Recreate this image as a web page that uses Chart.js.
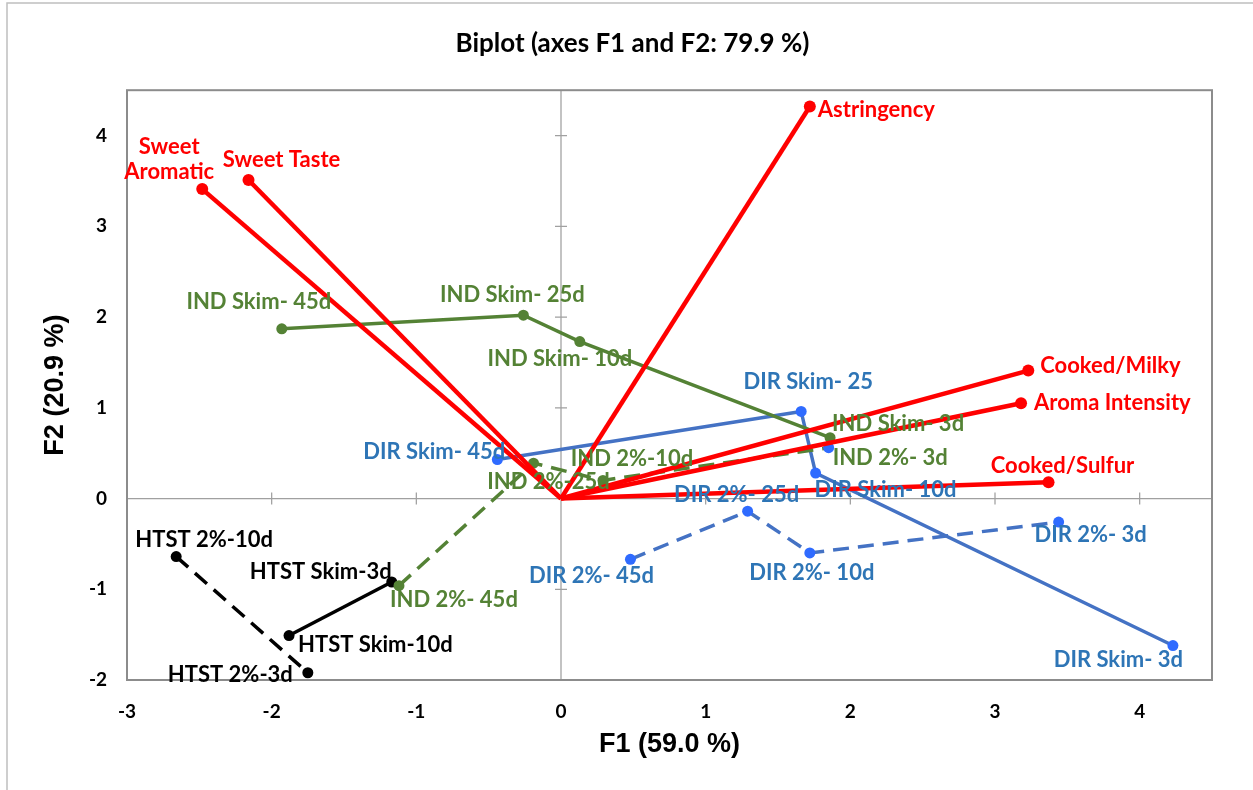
<!DOCTYPE html>
<html>
<head>
<meta charset="utf-8">
<script src="https://cdn.jsdelivr.net/npm/chart.js@4.4.1/dist/chart.umd.min.js"></script>
<style>
  html, body { margin: 0; padding: 0; background: #fff; }
  #wrap { position: relative; width: 1253px; height: 790px; }
</style>
</head>
<body>
<div id="wrap"><canvas id="biplot"></canvas></div>
<script>
// sensory attribute vectors (red)
const attrNames = [['Sweet', 'Aromatic'], 'Sweet Taste', 'Astringency', 'Cooked/Milky', 'Aroma Intensity', 'Cooked/Sulfur'];
const attrF1 = [-2.48, -2.16, 1.72, 3.23, 3.18, 3.37];
const attrF2 = [3.41, 3.51, 4.32, 1.41, 1.05, 0.18];

// milk samples, each path runs 45d -> 3d (or as drawn)
const indSkimNames = ['IND Skim- 45d', 'IND Skim- 25d', 'IND Skim- 10d', 'IND Skim- 3d'];
const indSkimF1 = [-1.93, -0.26, 0.13, 1.86];
const indSkimF2 = [1.87, 2.02, 1.73, 0.67];

const ind2Names = ['IND 2%- 45d', 'IND 2%-25d', 'IND 2%-10d', 'IND 2%- 3d'];
const ind2F1 = [-1.12, -0.19, 0.29, 1.85];
const ind2F2 = [-0.96, 0.39, 0.20, 0.56];

const dirSkimNames = ['DIR Skim- 45d', 'DIR Skim- 25', 'DIR Skim- 10d', 'DIR Skim- 3d'];
const dirSkimF1 = [-0.44, 1.66, 1.76, 4.23];
const dirSkimF2 = [0.43, 0.96, 0.28, -1.62];

const dir2Names = ['DIR 2%- 45d', 'DIR 2%- 25d', 'DIR 2%- 10d', 'DIR 2%- 3d'];
const dir2F1 = [0.48, 1.29, 1.72, 3.44];
const dir2F2 = [-0.67, -0.14, -0.60, -0.26];

const htstSkimNames = ['HTST Skim-3d', 'HTST Skim-10d'];
const htstSkimF1 = [-1.17, -1.88];
const htstSkimF2 = [-0.92, -1.51];

const htst2Names = ['HTST 2%-10d', 'HTST 2%-3d'];
const htst2F1 = [-2.66, -1.75];
const htst2F2 = [-0.64, -1.92];

const xTicks = [-3, -2, -1, 0, 1, 2, 3, 4];
const yTicks = [-2, -1, 0, 1, 2, 3, 4];

// label placement: [dx, dy, align] relative to the point
const attrPlace = [[-33, -30, 'center'], [33, -20, 'center'], [8, 3, 'left'], [12, -5, 'left'], [13, 0, 'left'], [14, -16, 'center']];
const indSkimPlace = [[-23, -27, 'center'], [-11, -20, 'center'], [-20, 17, 'center'], [2, -14, 'left']];
const ind2Place = [[-9, 14, 'left'], [15, 19, 'center'], [29, -21, 'center'], [4, 10, 'left']];
const dirSkimPlace = [[8, -8, 'right'], [7, -30, 'center'], [-1, 17, 'left'], [10, 14, 'right']];
const dir2Place = [[-39, 17, 'center'], [-11, -16, 'center'], [2, 20, 'center'], [32, 13, 'center']];
const htstSkimPlace = [[0, -10, 'right'], [9, 9, 'left']];
const htst2Place = [[28, -17, 'center'], [-15, 2, 'right']];

const RED = '#FF0000';
const GREEN = '#548235';
const BLUE_LINE = '#4472C4';
const BLUE_DOT = '#2F6BFF';
const BLUE_TEXT = '#2E75B6';
const BLACK = '#000000';
const DASH = [16, 9];

function pts(f1, f2) {
    return f1.map((v, i) => ({ x: v, y: f2[i] }));
}

function series(names, f1, f2, place, line, dot, text, dashed) {
    return {
        data: pts(f1, f2),
        names: names,
        place: place,
        labelColor: text,
        showLine: true,
        borderColor: line,
        borderWidth: 3.5,
        borderDash: dashed ? DASH : [],
        pointRadius: 5.5,
        pointHoverRadius: 5.5,
        pointBorderWidth: 0,
        pointBackgroundColor: dot,
        tension: 0
    };
}

const datasets = [];
attrNames.forEach((name, i) => {
    datasets.push({
        data: [{ x: 0, y: 0 }, { x: attrF1[i], y: attrF2[i] }],
        names: [null, name],
        place: [null, attrPlace[i]],
        labelColor: RED,
        showLine: true,
        borderColor: RED,
        borderWidth: 4.5,
        pointRadius: [0, 6],
        pointHoverRadius: [0, 6],
        pointBorderWidth: 0,
        pointBackgroundColor: RED,
        tension: 0
    });
});
datasets.push(series(indSkimNames, indSkimF1, indSkimF2, indSkimPlace, GREEN, GREEN, GREEN, false));
datasets.push(series(ind2Names, ind2F1, ind2F2, ind2Place, GREEN, [GREEN, GREEN, GREEN, BLUE_DOT], GREEN, true));
datasets.push(series(dirSkimNames, dirSkimF1, dirSkimF2, dirSkimPlace, BLUE_LINE, BLUE_DOT, BLUE_TEXT, false));
datasets.push(series(dir2Names, dir2F1, dir2F2, dir2Place, BLUE_LINE, BLUE_DOT, BLUE_TEXT, true));
datasets.push(series(htstSkimNames, htstSkimF1, htstSkimF2, htstSkimPlace, BLACK, BLACK, BLACK, false));
datasets.push(series(htst2Names, htst2F1, htst2F2, htst2Place, BLACK, BLACK, BLACK, true));

// outer frame, plot frame, zero axes with cross ticks
const frames = {
    id: 'frames',
    beforeDraw(chart) {
        const ctx = chart.ctx;
        ctx.save();
        ctx.strokeStyle = '#BFBFBF';
        ctx.lineWidth = 1.5;
        ctx.strokeRect(7, 3, chart.width + 20, chart.height + 20);
        ctx.restore();
    },
    beforeDatasetsDraw(chart) {
        const { ctx, chartArea: a, scales: { x, y } } = chart;
        const x0 = x.getPixelForValue(0);
        const y0 = y.getPixelForValue(0);
        ctx.save();
        ctx.strokeStyle = '#A0A0A0';
        ctx.lineWidth = 1.25;
        ctx.beginPath();
        ctx.moveTo(a.left, y0);
        ctx.lineTo(a.right, y0);
        ctx.moveTo(x0, a.top);
        ctx.lineTo(x0, a.bottom);
        xTicks.forEach(v => {
            const px = x.getPixelForValue(v);
            ctx.moveTo(px, y0 - 6);
            ctx.lineTo(px, y0 + 6);
        });
        yTicks.forEach(v => {
            const py = y.getPixelForValue(v);
            ctx.moveTo(x0 - 6, py);
            ctx.lineTo(x0 + 6, py);
        });
        ctx.stroke();
        ctx.strokeStyle = '#8C8C8C';
        ctx.lineWidth = 2;
        ctx.strokeRect(a.left, a.top, a.right - a.left, a.bottom - a.top);
        ctx.restore();
    }
};

// data labels next to each point
const pointLabels = {
    id: 'pointLabels',
    afterDatasetsDraw(chart) {
        const ctx = chart.ctx;
        ctx.save();
        ctx.font = 'bold 22px Lato';
        ctx.textBaseline = 'middle';
        chart.data.datasets.forEach((ds, i) => {
            const meta = chart.getDatasetMeta(i);
            ctx.fillStyle = ds.labelColor;
            ds.names.forEach((name, j) => {
                if (!name) return;
                const el = meta.data[j];
                const [dx, dy, align] = ds.place[j];
                const lines = Array.isArray(name) ? name : [name];
                ctx.textAlign = align;
                lines.forEach((t, k) => {
                    ctx.fillText(t, el.x + dx, el.y + dy + (k - (lines.length - 1) / 2) * 25);
                });
            });
        });
        ctx.restore();
    }
};

const tickFont = { family: 'Lato', size: 19, weight: 'bold' };
const axisFont = { family: 'Liberation Sans', size: 27, weight: 'bold' };

new Chart(document.getElementById('biplot'), {
    type: 'scatter',
    data: { datasets: datasets },
    options: {
        responsive: true,
        maintainAspectRatio: false,
        animation: false,
        events: [],
        layout: { padding: { left: 12, right: 0, top: 0, bottom: 0 } },
        plugins: {
            legend: { display: false },
            tooltip: { enabled: false },
            title: {
                display: true,
                text: 'Biplot (axes F1 and F2: 79.9 %)',
                color: '#000',
                font: { family: 'Lato', size: 26, weight: 'bold' },
                padding: { top: 28, bottom: 31 }
            }
        },
        scales: {
            x: {
                type: 'linear',
                position: 'bottom',
                min: -3,
                max: 4.5,
                afterBuildTicks: s => { s.ticks = xTicks.map(v => ({ value: v })); },
                afterFit: s => { s.height = 110; },
                grid: { display: false, drawTicks: false },
                border: { display: false },
                ticks: { padding: 20, color: '#000', font: tickFont },
                title: { display: true, text: 'F1 (59.0 %)', color: '#000', font: axisFont, padding: { top: 0, bottom: 29 } }
            },
            y: {
                type: 'linear',
                position: 'left',
                min: -2,
                max: 4.5,
                afterBuildTicks: s => { s.ticks = yTicks.map(v => ({ value: v })); },
                afterFit: s => { s.width = 115; },
                grid: { display: false, drawTicks: false },
                border: { display: false },
                ticks: { padding: 20, color: '#000', font: tickFont },
                title: { display: true, text: 'F2 (20.9 %)', color: '#000', font: axisFont, padding: { top: 27, bottom: 0 } }
            },
            yr: {
                type: 'linear',
                position: 'right',
                grid: { display: false, drawTicks: false },
                border: { display: false },
                ticks: { display: false },
                afterFit: s => { s.width = 41; }
            }
        }
    },
    plugins: [frames, pointLabels]
});
</script>
</body>
</html>
